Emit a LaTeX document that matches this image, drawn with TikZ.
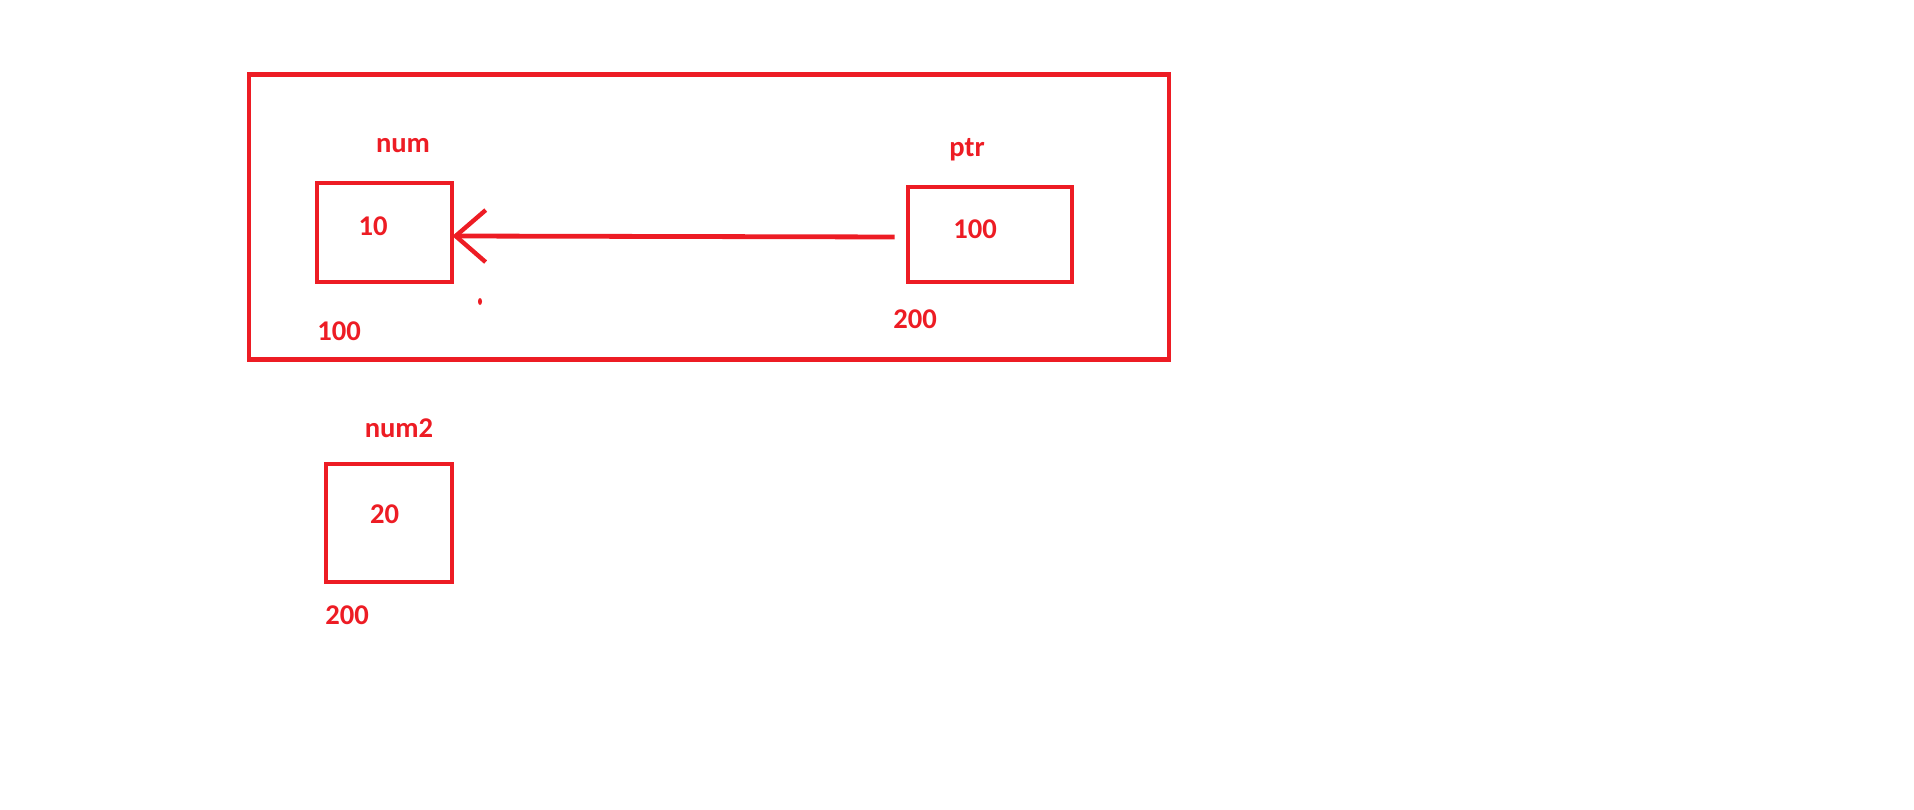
\documentclass[tikz,border=0pt]{standalone}
\usepackage{fontspec}
\setmainfont{Carlito}
\usetikzlibrary{arrows.meta}
\definecolor{pen}{RGB}{237,28,36}
\begin{document}
\begin{tikzpicture}[x=0.5pt,y=-0.5pt,
  cell/.style={draw=pen,line width=2.3pt,rectangle,inner sep=0pt},
  lbl/.style={text=pen,font=\bfseries\fontsize{14.3pt}{16pt}\selectfont,inner sep=0pt,anchor=center}]
\useasboundingbox (0,0) rectangle (1914,809);
\node[cell,minimum width=460pt,minimum height=142.75pt] (frame) at (709,217) {};
\node[cell,minimum width=67.5pt,minimum height=49.5pt] (num) at (384.5,232.5) {};
\node[cell,minimum width=82pt,minimum height=47.5pt] (ptr) at (990,234.5) {};
\node[cell,minimum width=63pt,minimum height=59pt] (num2) at (389,523) {};
\node[lbl] (numname) at (403,146) {num};
\node[lbl] (numval) at (373,226) {10};
\node[lbl] (numaddr) at (339,331) {100};
\node[lbl] (ptrname) at (967,150) {ptr};
\node[lbl] (ptrval) at (975,229.5) {100};
\node[lbl] (ptraddr) at (915,319) {200};
\node[lbl] (num2name) at (399,428.5) {num2};
\node[lbl] (num2val) at (384.5,514) {20};
\node[lbl] (num2addr) at (347,615) {200};
\draw[pen,line width=2.4pt,-{Straight Barb[length=15pt,width=26pt,line width=2.2pt]},shorten <=5.5pt,shorten >=-1pt]
  (ptr.west |- 0,237) -- (num.east |- 0,236);
\fill[pen] (480,301.5) ellipse (2 and 3.5);
\end{tikzpicture}
\end{document}
